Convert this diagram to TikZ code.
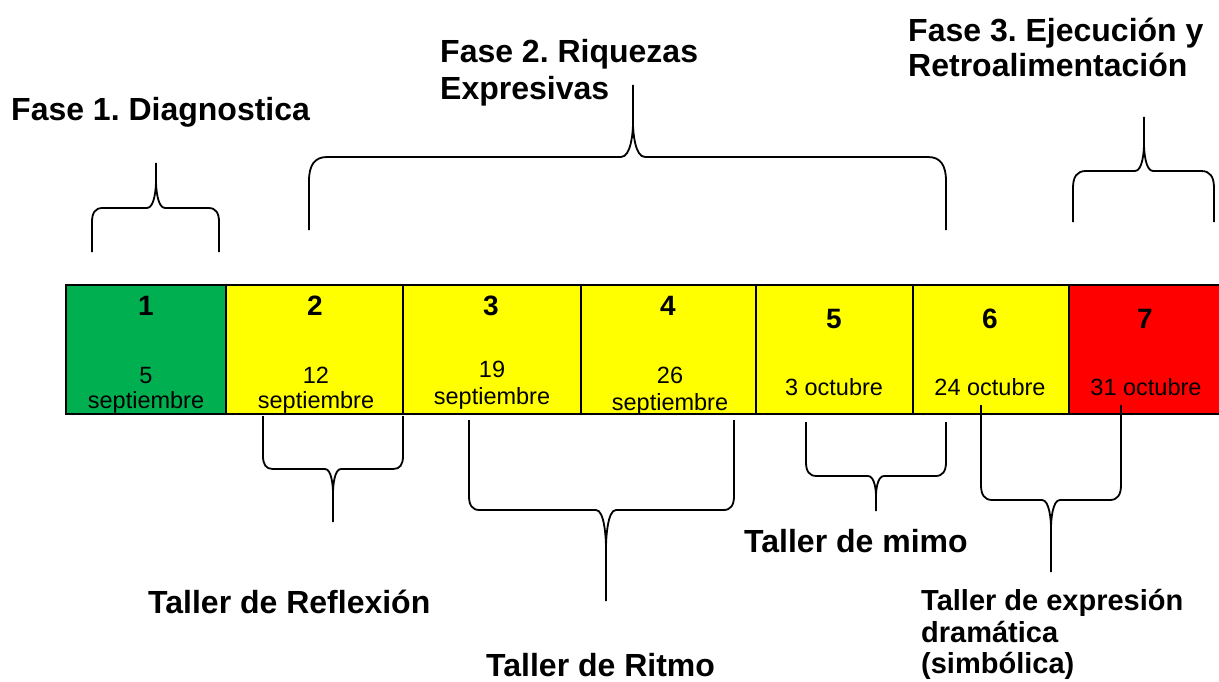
\documentclass[tikz,border=0pt]{standalone}
\usepackage{fontspec}
\setmainfont{Liberation Sans}
\frenchspacing
\definecolor{cgreen}{RGB}{0,176,80}
\definecolor{cyellow}{RGB}{255,255,0}
\definecolor{cred}{RGB}{255,0,0}
\newcommand\cbr[9]{%
 \pgfmathsetmacro\cbd{(#4>#5)?1:-1}%
 \pgfmathsetmacro\cbya{#5+\cbd*#7}%
 \pgfmathsetmacro\cbyc{#5+\cbd*#7*0.35}%
 \pgfmathsetmacro\cbyb{#5-\cbd*#9}%
 \pgfmathsetmacro\cbyd{#5-\cbd*#9*0.75}%
 \pgfmathsetmacro\cbch{0.75*#7}%
 \draw[brc] (#1,#4) -- (#1,\cbya) .. controls (#1,\cbyc) and ({#1+0.3*\cbch},#5) .. ({#1+\cbch},#5) -- ({#3-#8},#5) .. controls ({#3-0.15*#8},#5) and (#3,\cbyd) .. (#3,\cbyb) -- (#3,#6)
   (#2,#4) -- (#2,\cbya) .. controls (#2,\cbyc) and ({#2-0.3*\cbch},#5) .. ({#2-\cbch},#5) -- ({#3+#8},#5) .. controls ({#3+0.15*#8},#5) and (#3,\cbyd) .. (#3,\cbyb);}
\tikzset{
 cell/.style={draw=black, line width=2pt, inner sep=0pt, outer sep=0pt, minimum height=129pt, anchor=north west},
 brc/.style={draw=black, line width=1.8pt, line cap=butt, line join=round},
 ttl/.style={font=\fontsize{32}{35}\selectfont\bfseries, inner sep=0pt, anchor=base west},
 ttls/.style={font=\fontsize{29}{32}\selectfont\bfseries, inner sep=0pt, anchor=base west},
 num/.style={font=\fontsize{28}{30}\selectfont\bfseries, inner sep=0pt, anchor=base},
 dte/.style={font=\fontsize{23.5}{25}\selectfont, inner sep=0pt, anchor=base},
}
\begin{document}
\begin{tikzpicture}[x=1pt,y=-1pt]
\useasboundingbox (0,0) rectangle (1219,682);
% cells
\node[cell, fill=cgreen, minimum width=160pt] (c1) at (66,285) {};
\node[cell, fill=cyellow, minimum width=177pt] (c2) at (226,285) {};
\node[cell, fill=cyellow, minimum width=178pt] (c3) at (403,285) {};
\node[cell, fill=cyellow, minimum width=175pt] (c4) at (581,285) {};
\node[cell, fill=cyellow, minimum width=157pt] (c5) at (756,285) {};
\node[cell, fill=cyellow, minimum width=156pt] (c6) at (913,285) {};
\node[cell, fill=cred, minimum width=152pt] (c7) at (1069,285) {};
% numbers
\node[num] (n1) at (146,315) {1};
\node[num] (n2) at (315,315) {2};
\node[num] (n3) at (491,315) {3};
\node[num] (n4) at (668,315) {4};
\node[num] (n5) at (834,328) {5};
\node[num] (n6) at (990,328) {6};
\node[num] (n7) at (1145,328) {7};
% dates
\node[dte] (d1a) at (146,383) {5};
\node[dte] (d1b) at (146,408) {septiembre};
\node[dte] (d2a) at (316,383) {12};
\node[dte] (d2b) at (316,408) {septiembre};
\node[dte] (d3a) at (492,377) {19};
\node[dte] (d3b) at (492,404) {septiembre};
\node[dte] (d4a) at (670,383) {26};
\node[dte] (d4b) at (670,410) {septiembre};
\node[dte] (d5) at (834,395) {3 octubre};
\node[dte] (d6) at (990,395) {24 octubre};
\node[dte] (d7) at (1146,395) {31 octubre};
% titles
\node[ttl] (f1) at (11,121) {Fase 1. Diagnostica};
\node[ttl] (f2a) at (440,63) {Fase 2. Riquezas};
\node[ttl] (f2b) at (440,100) {Expresivas};
\node[ttl] (f3a) at (908,42) {Fase 3. Ejecución y};
\node[ttl] (f3b) at (908,77) {Retroalimentación};
\node[ttl] (t1) at (148,613) {Taller de Reflexión};
\node[ttl] (t2) at (486,676) {Taller de Ritmo};
\node[ttl] (t3) at (744,552) {Taller de mimo};
\node[ttls] (t4a) at (921,610) {Taller de expresión};
\node[ttls] (t4b) at (921,642) {dramática};
\node[ttls] (t4c) at (921,673) {(simbólica)};
% braces
\cbr{92}{219}{156}{252}{208}{163}{14}{9}{27}
\cbr{309}{946}{633}{230}{157}{85}{24}{12}{34}
\cbr{1073}{1214}{1144}{222}{171}{117}{17}{9}{27}
\cbr{263}{403}{333}{416}{469}{522}{13}{8}{24}
\cbr{469}{734}{606}{420}{510}{601}{14}{10}{38}
\cbr{806}{946}{876}{422}{476}{511}{14}{8}{20}
\cbr{981}{1121}{1051}{405}{500}{572}{15}{9}{28}
\end{tikzpicture}
\end{document}
